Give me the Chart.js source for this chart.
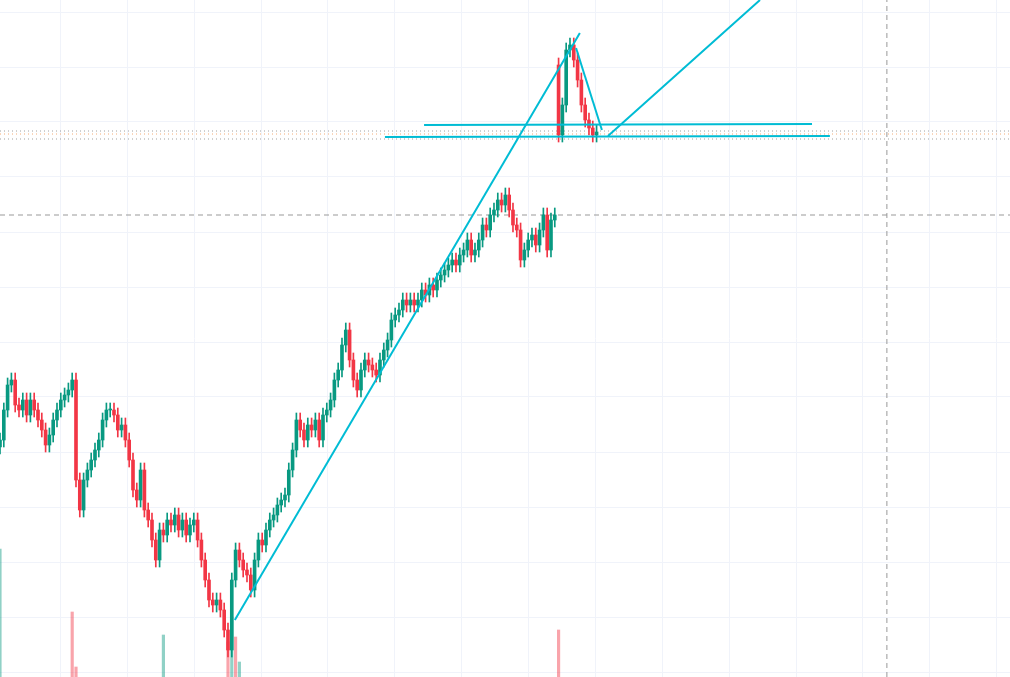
<!DOCTYPE html>
<html><head><meta charset="utf-8">
<script src="https://cdn.jsdelivr.net/npm/chart.js@4/dist/chart.umd.min.js"></script>
<style>html,body{margin:0;padding:0;background:#fff}canvas{display:block}</style>
</head><body><canvas id="c" width="1010" height="677"></canvas>
<script>
// closes (price units), sequential candles
const closes=[237,267,292,297,272,267,277, 262,277,267,257,247,232,242, 257,267,277,282,287,297,
197,167,197, 207,217,227,237, 257,267,267,262,247,252, 237,217,187,177,207, 167,157,137,117,147,
142,157,152,162,147,157,142,152,157, 137,117,97,77, 72,77,67,47,27, 97,127,117,107, 102,87,117,137,
132,147,157,162,172,177,182, 207,227,257,247,237,252, 247,257,237,262,267,277, 297,307,332,347,317,
297,287,307,317,312, 307,302,317,327,337, 357,362,367,377,372,377, 372,377,387,382,392,
387,397,402,407,412,417, 412,422,427,437,422, 427,437,452,447,462, 467,477,472,482,467,452,
447,417,427,437,442,432, 447,462,427,457,462,
542,572,627,632,617,597,572,557,549,542,545];
const firstOpen=230;
const gapIndex=147, gapOpen=612;
const wick=7;
const volIdx=[0,19,20,43,60,61,62,63,147];
const volVal=[128,65,10,42,35,60,40,15,47];
const volUp=[true,false,false,true,false,true,false,true,false];
const trendLines=[
 [[61.8,57],[152.6,644]],
 [[160,541],[200,677]],
 [[111.6,552],[213.7,553]],
 [[101.3,540],[218.4,541]],
 [[151.6,629],[158.4,547]]
];
const dottedLevels=[546,543,538];
const crossX=233.4, crossY=462;
const xMax=265.8, yMax=677;

const G='#089981',R='#F23645';
const wicks=[],bodies=[],cols=[];
closes.forEach((c,i)=>{const o=i===0?firstOpen:(i===gapIndex?gapOpen:closes[i-1]);
 const up=c>=o;cols.push(up?G:R);
 wicks.push({x:i,y:[Math.min(o,c)-wick,Math.max(o,c)+wick]});
 bodies.push({x:i,y:[o,c===o?c+1:c]});});
const ds=[
 {type:'bar',data:volIdx.map((x,k)=>({x,y:[0,volVal[k]]})),backgroundColor:volUp.map(u=>u?'rgba(8,153,129,0.45)':'rgba(242,54,69,0.45)'),barThickness:2.5,grouped:false,order:5},
 {type:'bar',data:wicks,backgroundColor:cols,barThickness:1,grouped:false,order:3},
 {type:'bar',data:bodies,backgroundColor:cols,barThickness:3,grouped:false,order:2},
];
trendLines.forEach(l=>ds.push({type:'line',data:l.map(p=>({x:p[0],y:p[1]})),borderColor:'#00bcd4',borderWidth:2,pointRadius:0,order:1}));
dottedLevels.forEach((v,k)=>ds.push({type:'line',data:[{x:0,y:v},{x:xMax,y:v}],borderColor:k==1?'rgba(239,138,60,0.7)':'rgba(120,120,120,0.7)',borderWidth:1,borderDash:[1,3],pointRadius:0,order:4}));
ds.push({type:'line',data:[{x:0,y:crossY},{x:xMax,y:crossY}],borderColor:'#999',borderWidth:1,borderDash:[5,4],pointRadius:0,order:4});
ds.push({type:'line',data:[{x:crossX,y:0},{x:crossX,y:yMax}],borderColor:'#999',borderWidth:1,borderDash:[5,4],pointRadius:0,order:4});
new Chart(document.getElementById('c'),{type:'bar',data:{datasets:ds},
options:{responsive:false,animation:false,layout:{padding:0},
plugins:{legend:{display:false},tooltip:{enabled:false}},
scales:{
 x:{type:'linear',min:0,max:xMax,offset:false,border:{display:false},ticks:{display:false},grid:{color:'#f0f3fa',drawTicks:false},
   afterBuildTicks:a=>{const t=[];for(let v=7.1;v<xMax;v+=17.6)t.push({value:v});a.ticks=t;}},
 y:{min:0,max:yMax,border:{display:false},ticks:{display:false},grid:{color:'#f0f3fa',drawTicks:false},
   afterBuildTicks:a=>{const t=[];for(let v=5;v<yMax;v+=55)t.push({value:v});a.ticks=t;}}
}}});
</script></body></html>
